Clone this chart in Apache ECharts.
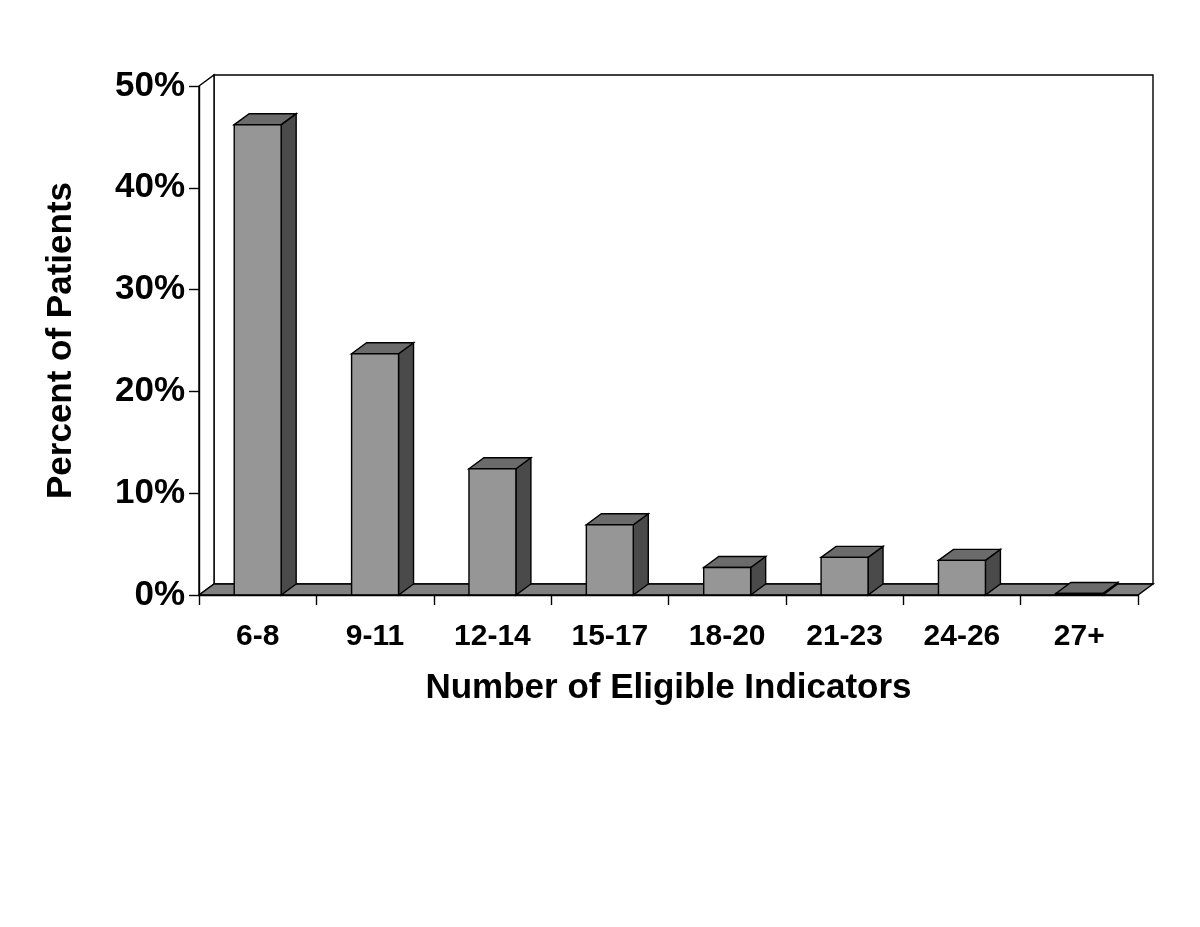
<!DOCTYPE html>
<html>
<head>
<meta charset="utf-8">
<script src="https://cdn.jsdelivr.net/npm/echarts@6/dist/echarts.min.js"></script>
<style>html,body{margin:0;padding:0;background:#fff;}#c{width:1200px;height:927px;}</style>
</head>
<body>
<div id="c"></div>
<script>
var categories = ['6-8', '9-11', '12-14', '15-17', '18-20', '21-23', '24-26', '27+'];
var percentValues = [46.2, 23.7, 12.4, 6.9, 2.7, 3.7, 3.4, 0.15];
var yTicks = [0, 10, 20, 30, 40, 50];

var DX = 15, DY = -11;
var FONT = 'Liberation Sans, Arial, sans-serif';

var chart = echarts.init(document.getElementById('c'));

function renderFrame(params, api) {
  var cs = params.coordSys;
  var x0 = cs.x, y0 = cs.y, x1 = cs.x + cs.width, y1 = cs.y + cs.height;
  return {
    type: 'group',
    children: [
      { type: 'rect', shape: { x: x0 + DX, y: y0 + DY, width: cs.width, height: cs.height },
        style: { fill: '#fff', stroke: '#000', lineWidth: 1.4 } },
      { type: 'polygon', shape: { points: [[x0, y0], [x0 + DX, y0 + DY], [x0 + DX, y1 + DY], [x0, y1]] },
        style: { fill: '#fff', stroke: '#000', lineWidth: 1.4 } },
      { type: 'polygon', shape: { points: [[x0, y1], [x1, y1], [x1 + DX, y1 + DY], [x0 + DX, y1 + DY]] },
        style: { fill: '#808080', stroke: '#000', lineWidth: 1.4 } }
    ]
  };
}

function renderBar(params, api) {
  var idx = api.value(0);
  var val = api.value(1);
  var pTop = api.coord([idx, val]);
  var pBot = api.coord([idx, 0]);
  var band = api.size([1, 0])[0];
  var w = band * 0.4;
  var xl = pTop[0] - w / 2, xr = pTop[0] + w / 2;
  var yt = pTop[1], yb = pBot[1];
  var st = { stroke: '#000', lineWidth: 1.4, lineJoin: 'miter' };
  return {
    type: 'group',
    children: [
      { type: 'polygon', shape: { points: [[xr, yt], [xr + DX, yt + DY], [xr + DX, yb + DY], [xr, yb]] },
        style: Object.assign({ fill: '#4a4a4a' }, st) },
      { type: 'polygon', shape: { points: [[xl, yt], [xl + DX, yt + DY], [xr + DX, yt + DY], [xr, yt]] },
        style: Object.assign({ fill: '#6b6b6b' }, st) },
      { type: 'rect', shape: { x: xl, y: yt, width: w, height: yb - yt },
        style: Object.assign({ fill: '#969696' }, st) }
    ]
  };
}

var barData = categories.map(function (c, i) { return [i, percentValues[i]]; });

chart.setOption({
  animation: false,
  backgroundColor: '#fff',
  grid: { left: 199, right: 62, top: 86, bottom: 332, containLabel: false },
  xAxis: {
    type: 'category',
    data: categories,
    boundaryGap: true,
    name: 'Number of Eligible Indicators',
    nameLocation: 'middle',
    nameGap: 76,
    nameTextStyle: { fontFamily: FONT, fontWeight: 'bold', fontSize: 35, color: '#000' },
    axisLine: { show: true, lineStyle: { color: '#000', width: 1.4 } },
    axisTick: { show: true, length: 10, alignWithLabel: false, lineStyle: { color: '#000', width: 1.4 } },
    axisLabel: { fontFamily: FONT, fontWeight: 'bold', fontSize: 30, color: '#000', margin: 27 },
    splitLine: { show: false },
    z: 10
  },
  yAxis: {
    type: 'value',
    min: yTicks[0],
    max: yTicks[yTicks.length - 1],
    interval: 10,
    name: 'Percent of Patients',
    nameLocation: 'middle',
    nameGap: 120,
    nameRotate: 90,
    nameTextStyle: { fontFamily: FONT, fontWeight: 'bold', fontSize: 35, color: '#000' },
    axisLine: { show: true, lineStyle: { color: '#000', width: 1.4 } },
    axisTick: { show: true, length: 10, lineStyle: { color: '#000', width: 1.4 } },
    axisLabel: { fontFamily: FONT, fontWeight: 'bold', fontSize: 35, color: '#000', margin: 14,
      padding: [5, 0, 0, 0],
      formatter: function (v) { return v + '%'; } },
    splitLine: { show: false },
    z: 10
  },
  series: [
    { type: 'custom', name: 'frame', renderItem: renderFrame, data: [[0, 0]], z: 1, silent: true, clip: false },
    { type: 'custom', name: 'Percent of Patients', renderItem: renderBar, data: barData, z: 2, clip: false,
      encode: { x: 0, y: 1 } }
  ]
});
</script>
</body>
</html>
